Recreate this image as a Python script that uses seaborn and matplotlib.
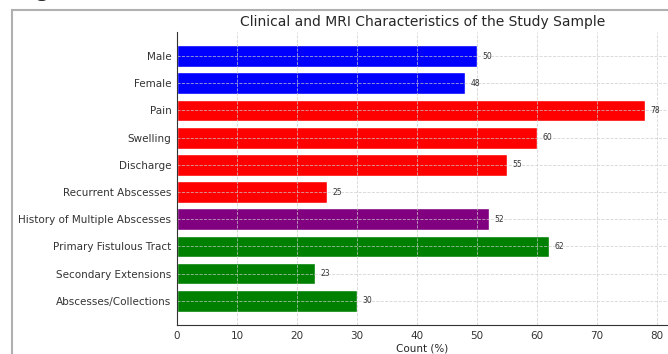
import numpy as np
import pandas as pd
import matplotlib
matplotlib.use('Agg')
import matplotlib.pyplot as plt
import seaborn as sns
from matplotlib.patches import Rectangle

categories = ['Male', 'Female', 'Pain', 'Swelling', 'Discharge', 'Recurrent Abscesses',
              'History of Multiple Abscesses', 'Primary Fistulous Tract',
              'Secondary Extensions', 'Abscesses/Collections']
values = [50, 48, 78, 60, 55, 25, 52, 62, 23, 30]
groups = ['Gender', 'Gender', 'Symptom', 'Symptom', 'Symptom', 'Symptom',
          'History', 'MRI', 'MRI', 'MRI']
group_colors = {'Gender': 'blue', 'Symptom': 'red', 'History': 'purple', 'MRI': 'green'}

df = pd.DataFrame({'category': categories, 'value': values, 'group': groups})

sns.set_style('white')
plt.rcParams['font.family'] = ['DejaVu Sans']

fig = plt.figure(figsize=(6.68, 3.54), dpi=100)
ax = fig.add_axes([0.265, 0.082, 0.735, 0.828])

sns.barplot(data=df, x='value', y='category', hue='group', palette=group_colors,
            dodge=False, legend=False, width=0.8, saturation=1, ax=ax, orient='h')

for i, v in enumerate(values):
    ax.text(v + 0.9, i, str(v), va='center', ha='left', fontsize=5.5, color='#333333')

# matplotlib-style 5% margins instead of seaborn's tight category limits
n = len(categories)
span = (n - 1) + 0.8
ax.set_ylim(n - 1 + 0.4 + 0.05 * span, -0.4 - 0.05 * span)
ax.set_xlim(0, 81.9)
ax.set_xticks(np.arange(0, 81, 10))
ax.set_xlabel('Count (%)', fontsize=7.5, labelpad=2)
ax.set_ylabel('')
ax.set_title('Clinical and MRI Characteristics of the Study Sample', fontsize=10, pad=4)
ax.tick_params(axis='both', labelsize=7.5, length=2, pad=2, colors='#333333')
ax.grid(True, linestyle='--', color='#cccccc', linewidth=0.6, alpha=0.8)
ax.set_axisbelow(False)
for s in ['top', 'right']:
    ax.spines[s].set_visible(False)
for s in ['left', 'bottom']:
    ax.spines[s].set_color('#333333')
    ax.spines[s].set_linewidth(0.8)
    ax.spines[s].set_zorder(5)

# frame of the surrounding page
fig.patches.append(Rectangle((12 / 668, -0.1), 1.2, (354 - 10) / 354 + 0.1,
                             transform=fig.transFigure, fill=False,
                             edgecolor='#b0b0b0', linewidth=1.5))
fig.text(16 / 668, 1.0 + 3 / 354, 'Figure 1', fontsize=14, fontweight='bold',
         va='baseline', ha='left')

plt.savefig('out.png', dpi=100)
plt.close()
